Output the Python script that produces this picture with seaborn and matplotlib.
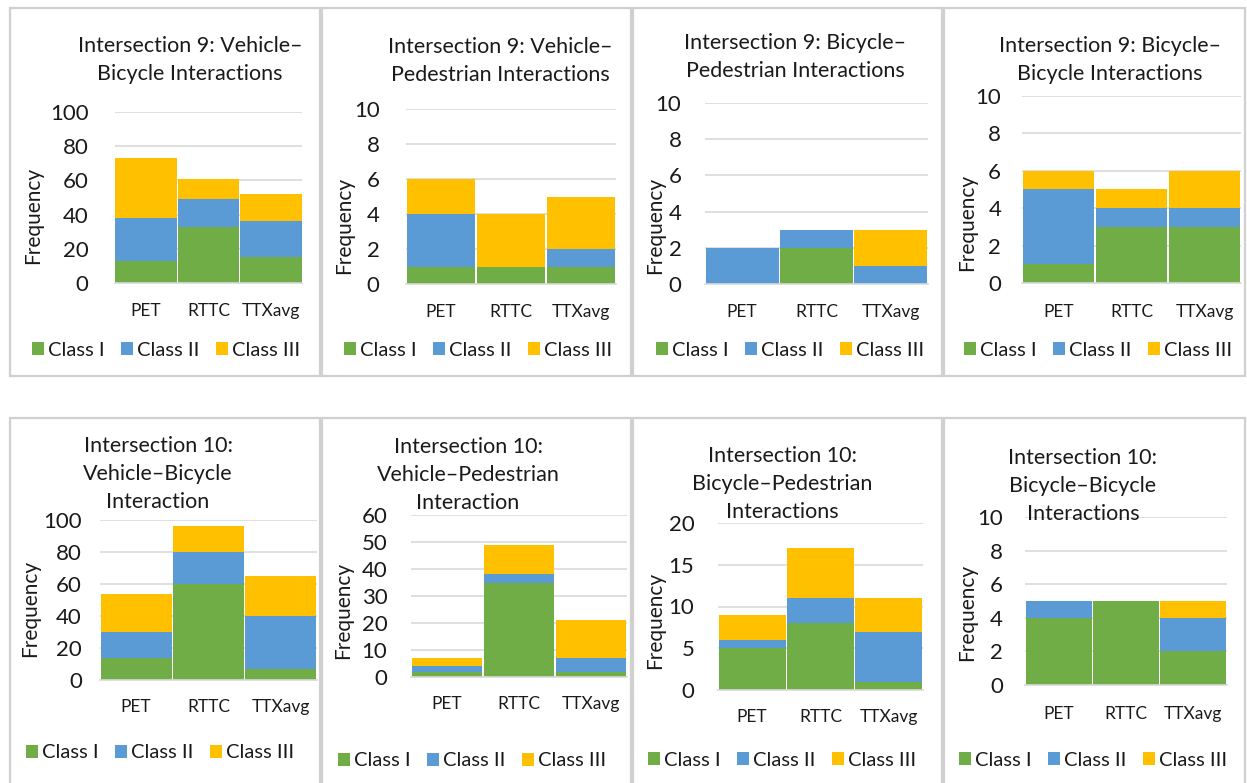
import matplotlib
matplotlib.use("Agg")
import matplotlib.pyplot as plt
from matplotlib.patches import Patch, Rectangle
import numpy as np
import seaborn as sns

sns.set_style("white")
plt.rcParams['font.family'] = ['Lato', 'DejaVu Sans']

categories = ["PET", "RTTC", "TTXavg"]
class_names = ["Class I", "Class II", "Class III"]

# Intersection 9
i9_vb_class1 = [13, 33, 15]
i9_vb_class2 = [25, 16, 21]
i9_vb_class3 = [35, 12, 16]

i9_vp_class1 = [1, 1, 1]
i9_vp_class2 = [3, 0, 1]
i9_vp_class3 = [2, 3, 3]

i9_bp_class1 = [0, 2, 0]
i9_bp_class2 = [2, 1, 1]
i9_bp_class3 = [0, 0, 2]

i9_bb_class1 = [1, 3, 3]
i9_bb_class2 = [4, 1, 1]
i9_bb_class3 = [1, 1, 2]

# Intersection 10
i10_vb_class1 = [14, 60, 7]
i10_vb_class2 = [16, 20, 33]
i10_vb_class3 = [24, 16, 25]

i10_vp_class1 = [2, 35, 2]
i10_vp_class2 = [2, 3, 5]
i10_vp_class3 = [3, 11, 14]

i10_bp_class1 = [5, 8, 1]
i10_bp_class2 = [1, 3, 6]
i10_bp_class3 = [3, 6, 4]

i10_bb_class1 = [4, 5, 2]
i10_bb_class2 = [1, 0, 2]
i10_bb_class3 = [0, 0, 1]

titles = [
    "Intersection 9: Vehicle\u2013\nBicycle Interactions",
    "Intersection 9: Vehicle\u2013\nPedestrian Interactions",
    "Intersection 9: Bicycle\u2013\nPedestrian Interactions",
    "Intersection 9: Bicycle\u2013\nBicycle Interactions",
    "Intersection 10:\nVehicle\u2013Bicycle\nInteraction",
    "Intersection 10:\nVehicle\u2013Pedestrian\nInteraction",
    "Intersection 10:\nBicycle\u2013Pedestrian\nInteractions",
    "Intersection 10:\nBicycle\u2013Bicycle\nInteractions",
]
y_max = [100, 10, 10, 10, 100, 60, 20, 10]
y_step = [20, 2, 2, 2, 20, 10, 5, 2]

data = [
    (i9_vb_class1, i9_vb_class2, i9_vb_class3),
    (i9_vp_class1, i9_vp_class2, i9_vp_class3),
    (i9_bp_class1, i9_bp_class2, i9_bp_class3),
    (i9_bb_class1, i9_bb_class2, i9_bb_class3),
    (i10_vb_class1, i10_vb_class2, i10_vb_class3),
    (i10_vp_class1, i10_vp_class2, i10_vp_class3),
    (i10_bp_class1, i10_bp_class2, i10_bp_class3),
    (i10_bb_class1, i10_bb_class2, i10_bb_class3),
]

colors = ["#70AD47", "#5B9BD5", "#FFC000"]
grid_c = "#D9D9D9"
text_c = "#1a1a1a"

W, H = 1247, 783
fig = plt.figure(figsize=(W / 100, H / 100), dpi=100)
fig.patch.set_facecolor("white")

def fx(px):
    return px / W

def fy(py):
    return 1 - py / H

# panel layout in pixels
boxes = [(10, 8, 320, 376), (322, 8, 631, 376), (633, 8, 942, 376), (944, 8, 1245, 376),
         (10, 418, 320, 790), (322, 418, 631, 790), (633, 418, 942, 790), (944, 418, 1245, 790)]
plot_areas = [(115, 112, 302, 283), (406, 109, 616, 284), (705, 103, 928, 284), (1022, 96, 1241, 283),
              (100, 520, 317, 680), (411, 515, 627, 677), (718, 523, 923, 690), (1025, 517, 1227, 685)]
title_pos = [(190, 60), (500, 61), (795, 57), (1110, 60),
             (158, 474), (468, 475), (782, 484), (1083, 486)]
title_pitch = 28
ylabel_pos = [(33, 215), (344, 225), (655, 225), (967, 222),
              (30, 608), (343, 610), (655, 620), (967, 612)]
ytick_pad = [19, 19, 17, 15, 13, 17, 17, 16]
xtick_y = [312, 313, 313, 313, 708, 705, 718, 715]
legend_pos = [(166, 350), (478, 350), (790, 350), (1098, 350),
              (160, 753), (472, 761), (782, 760), (1093, 760)]

for (x0, y0, x1, y1) in boxes:
    fig.patches.append(Rectangle((fx(x0), fy(y1)), fx(x1 - x0), (y1 - y0) / H,
                                 transform=fig.transFigure, fill=False,
                                 edgecolor="#D0D0D0", linewidth=1.6))

for i in range(8):
    x0, y0, x1, y1 = plot_areas[i]
    ax = fig.add_axes([fx(x0), fy(y1), fx(x1 - x0), (y1 - y0) / H])
    c1, c2, c3 = [np.array(v) for v in data[i]]
    layers = [c1 + c2 + c3, c1 + c2, c1]
    for vals, col in zip(layers, colors[::-1]):
        sns.barplot(x=categories, y=vals, color=col, saturation=1, width=0.985,
                    linewidth=0, errorbar=None, ax=ax, zorder=2)
    ax.set_xlim(-0.5, 2.5)
    ax.set_ylim(0, y_max[i])
    ax.set_yticks(np.arange(0, y_max[i] + 0.001, y_step[i]))
    ax.yaxis.grid(True, color=grid_c, linewidth=1.2)
    ax.set_axisbelow(True)
    for s in ["top", "right", "left"]:
        ax.spines[s].set_visible(False)
    ax.spines["bottom"].set_color(grid_c)
    ax.spines["bottom"].set_linewidth(1.2)
    ax.set_xlabel("")
    ax.set_ylabel("")
    ax.tick_params(axis="y", labelsize=16, length=0, pad=ytick_pad[i], colors=text_c)
    xpad = (xtick_y[i] - y1 - 9) / 1.389
    ax.tick_params(axis="x", labelsize=12.5, length=0, pad=xpad, colors=text_c)

    tx, ty = title_pos[i]
    lines = titles[i].split("\n")
    n = len(lines)
    for k, line in enumerate(lines):
        ly_k = ty + (k - (n - 1) / 2) * title_pitch
        fig.text(fx(tx), fy(ly_k), line, ha="center", va="center", fontsize=15.5,
                 color=text_c)
    lx, ly = ylabel_pos[i]
    fig.text(fx(lx), fy(ly), "Frequency", ha="center", va="center", rotation=90,
             fontsize=15, color=text_c)
    handles = [Patch(facecolor=c, edgecolor="none", label=n_) for c, n_ in zip(colors, class_names)]
    gx, gy = legend_pos[i]
    fig.legend(handles=handles, loc="center", bbox_to_anchor=(fx(gx), fy(gy)),
               ncol=3, frameon=False, fontsize=14.5, handlelength=0.6, handleheight=0.6,
               handletextpad=0.2, columnspacing=0.8, borderaxespad=0, labelcolor=text_c)

fig.savefig("out.png", dpi=100, facecolor="white")
